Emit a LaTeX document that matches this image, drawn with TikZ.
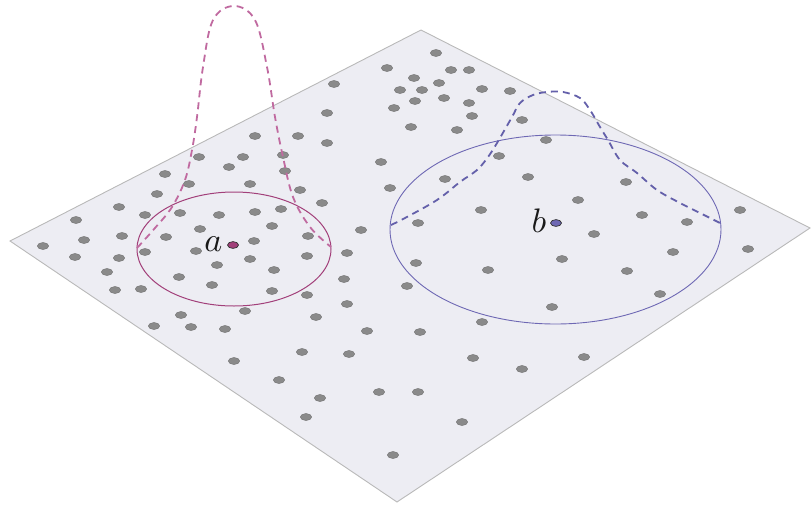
\documentclass[tikz,border=0pt]{standalone}
\usepackage{tikz}
\usetikzlibrary{positioning, calc}
\usepackage{amsmath, amssymb}

\definecolor{piano}{RGB}{237,237,243}
\definecolor{bordo}{RGB}{185,185,185}
\definecolor{grigio}{RGB}{138,138,138}
\definecolor{magenta}{RGB}{162,64,122}
\definecolor{magchiaro}{RGB}{192,106,160}
\definecolor{blu}{RGB}{110,104,180}
\definecolor{bluscuro}{RGB}{100,96,170}

\tikzset{
    punto/.style={fill=grigio, draw=black!55, line width=0.4pt},
    curva/.style={dashed, line width=1.8pt, dash pattern=on 7pt off 5pt},
}

\begin{document}
\begin{tikzpicture}[x=1pt, y=-1pt]
        \useasboundingbox (0,0) rectangle (811,504);

        %disegno piano
        \draw[fill=piano, draw=bordo, line width=0.9pt] (10,241)-- (421,30)-- (810,228)-- (397,502)-- cycle;

        %disegno punti
        \foreach \x/\y in {436/53, 451/70, 469/70, 387/68, 414/78, 439/83, 334/84, 400/90, 422/90, 482/89,
            510/91, 444/98, 415/101, 469/103, 394/108, 327/113, 472/116, 411/127, 457/130, 522/120,
            255/136, 298/136, 327/143, 546/140, 283/155, 199/157, 243/157, 499/156, 381/162, 229/167,
            285/171, 165/174, 528/177, 445/179, 626/182, 189/184, 250/184, 390/188, 300/190, 157/194,
            578/200, 322/203, 119/207, 481/210, 740/210, 281/209, 255/212, 180/213, 145/215, 219/215,
            642/215, 76/220, 687/222, 418/223, 272/226, 200/229, 361/230, 594/234, 122/236, 166/237,
            308/236, 84/240, 254/241, 43/246, 145/252, 196/251, 347/253, 673/252, 748/249, 75/257,
            119/258, 250/259, 307/256, 562/259, 416/263, 217/265, 488/270, 627/271, 107/272, 274/270,
            179/277, 344/279, 212/285, 141/289, 115/290, 407/286, 272/291, 660/294, 307/295, 347/304,
            552/307, 245/311, 181/315, 316/317, 482/322, 154/326, 191/327, 225/329, 367/331, 420/332,
            302/352, 349/354, 584/357, 473/358, 234/361, 522/369, 279/380, 379/392, 418/392, 320/398,
            306/417, 462/422, 393/455}
            \draw[punto] (\x,\y) ellipse [x radius=5.7, y radius=3.5];

        %cerchio attorno ad a
        \draw[magenta, line width=1pt] (234,249) ellipse [x radius=97, y radius=57];
        %curva a
        \draw[curva, magchiaro] plot[smooth, tension=0.6] coordinates {(137,248) (155,228) (172,207) (185,180)
            (192,150) (197,117) (203,67) (213,20) (234,6) (255,20) (267,67) (275,117) (283,157)
            (293,197) (310,227) (331,247)};

        %cerchio attorno a b
        \draw[blu, line width=0.9pt] (555.5,229.5) ellipse [x radius=165.5, y radius=94.5];
        %curva b
        \draw[curva, bluscuro] plot[smooth, tension=0.6] coordinates {(391,225) (405,218) (437,200) (460,182)
            (477,170) (488,157) (497,143) (512,117) (520,103) (533,95) (547,92) (563,92) (580,98)
            (590,110) (600,127) (608,140) (620,160) (637,173) (657,190) (680,203) (700,213) (720,223)};

        %punti a e b
        \draw[fill=magenta, draw=black!80, line width=0.7pt] (233,245) ellipse [x radius=5.5, y radius=3.4];
        \draw[fill=blu, draw=black!80, line width=0.7pt] (556,223) ellipse [x radius=5.5, y radius=3.4];

        %label
        \node (a) at (223,251) [anchor=base east, inner sep=0pt, scale=3.4, text=black!90]{$a$};
        \node (b) at (547,232) [anchor=base east, inner sep=0pt, scale=3.4, text=black!90]{$b$};
    \end{tikzpicture}
\end{document}
